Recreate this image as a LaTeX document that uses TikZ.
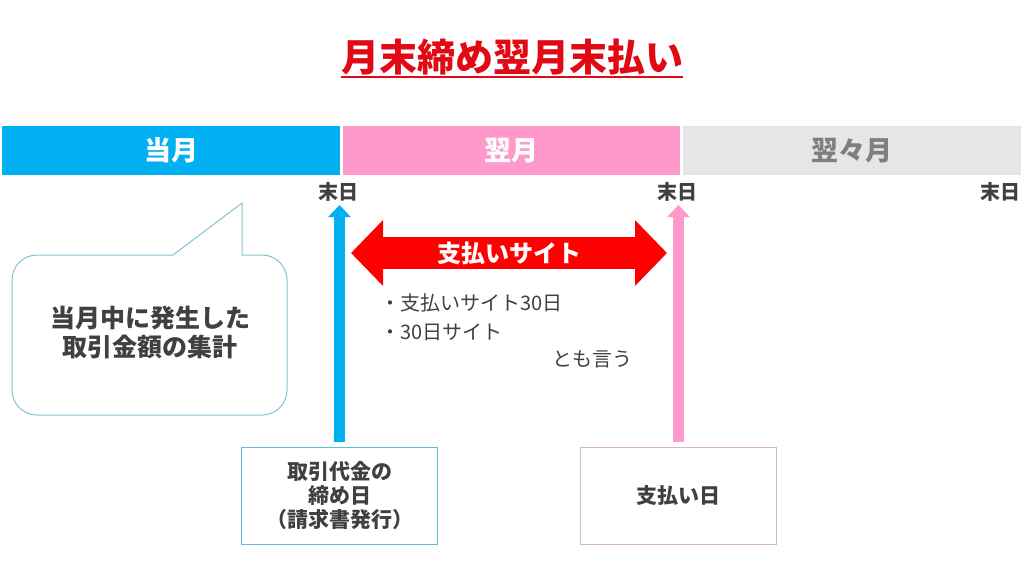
\documentclass[tikz,border=0pt]{standalone}
\usepackage{fontspec}
\setmainfont{Noto Sans CJK JP}
\usetikzlibrary{arrows.meta}
\definecolor{tred}{RGB}{225,10,20}
\definecolor{acyan}{RGB}{0,176,240}
\definecolor{apink}{RGB}{255,153,204}
\definecolor{agray}{RGB}{231,230,230}
\definecolor{txtd}{RGB}{64,64,64}
\definecolor{txtg}{RGB}{127,127,127}
\definecolor{cline}{RGB}{130,195,210}
\definecolor{bline}{RGB}{95,190,215}
\definecolor{pline}{RGB}{220,180,210}
\definecolor{ared}{RGB}{255,0,0}
\begin{document}
\begin{tikzpicture}[x=1pt,y=-1pt,
  titlestyle/.style={inner sep=0pt,text=tred,font=\fontsize{38}{40}\selectfont\bfseries},
  bar/.style={inner sep=0pt,minimum height=49pt,text=white,font=\fontsize{27}{30}\selectfont\bfseries},
  endlabel/.style={inner sep=0pt,text=txtd,font=\fontsize{20}{22}\selectfont\bfseries},
  vup/.style={line width=11pt,-{Triangle[width=22pt,length=12pt]},shorten <=5pt},
  sitearrow/.style={ared,line width=32pt,{Triangle[width=64pt,length=32pt]}-{Triangle[width=64pt,length=32pt]}},
  sitelabel/.style={inner sep=0pt,text=white,font=\fontsize{24}{26}\selectfont\bfseries},
  note/.style={inner sep=0pt,text=txtd,font=\fontsize{20}{22}\selectfont},
  calltext/.style={inner sep=0pt,text=txtd,align=center,font=\fontsize{25}{29}\selectfont\bfseries},
  daybox/.style={draw,line width=1pt,minimum width=196pt,minimum height=97pt,inner sep=0pt,text=txtd,align=center,font=\fontsize{21}{24}\selectfont\bfseries},
  callline/.style={draw=cline,line width=1pt}
]
\useasboundingbox (0,0) rectangle (1024,576);
% title
\node[titlestyle] (title) at (512,57) {月末締め翌月末払い};
\draw[tred,line width=2pt] ([yshift=-2pt]title.south west) -- ([yshift=-2pt]title.south east);
% month bars
\node[bar,fill=acyan,minimum width=338pt] (m1) at (171,150.5) {当月};
\node[bar,fill=apink,minimum width=337pt] (m2) at (511.5,150.5) {翌月};
\node[bar,fill=agray,minimum width=338pt,text=txtg] (m3) at (852,150.5) {翌々月};
% end-of-month labels
\node[endlabel] (e1) at (338,192) {末日};
\node[endlabel] (e2) at (677,192) {末日};
\node[endlabel] (e3) at (1000,192) {末日};
% boxes
\node[daybox,draw=bline] (b1) at (339.5,496) {取引代金の\\締め日\\（請求書発行）};
\node[daybox,draw=pline] (b2) at (678.5,495.5) {支払い日};
% vertical arrows
\coordinate (t1) at (339.5,205);
\coordinate (t2) at (678.5,205);
\draw[vup,acyan] (b1.north) -- (t1);
\draw[vup,apink] (b2.north) -- (t2);
% payment site arrow
\coordinate (sl) at (351,253);
\coordinate (sr) at (667,253);
\draw[sitearrow] (sl) -- node[sitelabel] (site) {支払いサイト} (sr);
% notes
\node[note,anchor=west] (n1) at (380,303) {・支払いサイト30日};
\node[note,anchor=west] (n2) at (380,332) {・30日サイト};
\node[note] (n3) at (592,359) {とも言う};
% callout
\draw[callline,rounded corners=25pt] (242,255) -- (287,255) -- (287,415) -- (12,415) -- (12,255) -- (173,255);
\draw[callline,line join=miter] (173,255) -- (242,203) -- (242,255);
\node[calltext] (ct) at (150,333) {当月中に発生した\\取引金額の集計};
\end{tikzpicture}
\end{document}
